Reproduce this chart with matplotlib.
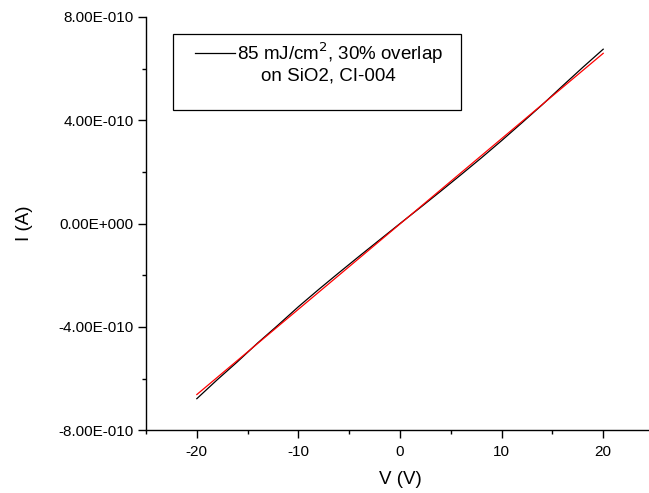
import numpy as np
import matplotlib
matplotlib.use("Agg")
import matplotlib.pyplot as plt
from matplotlib.ticker import FixedLocator, FuncFormatter
from matplotlib.patches import Rectangle

plt.rcParams['font.family'] = ['Liberation Sans', 'DejaVu Sans']
plt.rcParams['axes.unicode_minus'] = False

# measured I-V sweep (V in volts, I in 1e-10 A)
v_meas = [-20, -18, -16, -14, -12, -10, -8, -6, -4, -2, 0,
          2, 4, 6, 8, 10, 12, 14, 16, 18, 20]
i_meas = [-6.78, -6.05, -5.35, -4.62, -3.93, -3.22, -2.55, -1.90, -1.26, -0.63, 0.0,
          0.62, 1.25, 1.89, 2.54, 3.21, 3.90, 4.60, 5.33, 6.05, 6.75]

# linear fit
v_fit = [-20, 20]
i_fit = [-6.62, 6.59]

x_major = [-20, -10, 0, 10, 20]
x_minor = [-25, -15, -5, 5, 15, 25]
y_major = [-8e-10, -4e-10, 0, 4e-10, 8e-10]
y_minor = [-6e-10, -2e-10, 2e-10, 6e-10]

legend_line1 = "85 mJ/cm$^2$, 30% overlap"
legend_line2 = "on SiO2, CI-004"

def sci_fmt(y, pos):
    if y == 0:
        return "0.00E+000"
    exp = int(np.floor(np.log10(abs(y)) + 1e-9))
    mant = y / 10 ** exp
    return "%.2fE%s%03d" % (mant, "-" if exp < 0 else "+", abs(exp))

fig = plt.figure(figsize=(6.49, 4.93), dpi=100)
ax = fig.add_axes([0.2250, 0.1274, 0.7827, 0.8383])

ax.plot(v_meas, np.array(i_meas) * 1e-10, color='black', lw=0.9)
ax.plot(v_fit, np.array(i_fit) * 1e-10, color='#ff0000', lw=0.9)

ax.set_xlim(-25, 25)
ax.set_ylim(-8e-10, 8e-10)
ax.xaxis.set_major_locator(FixedLocator(x_major))
ax.xaxis.set_minor_locator(FixedLocator(x_minor))
ax.yaxis.set_major_locator(FixedLocator(y_major))
ax.yaxis.set_minor_locator(FixedLocator(y_minor))
ax.yaxis.set_major_formatter(FuncFormatter(sci_fmt))

for s in ['top', 'right']:
    ax.spines[s].set_visible(False)
for s in ['left', 'bottom']:
    ax.spines[s].set_linewidth(1.0)

ax.tick_params(which='major', direction='out', length=5.5, width=1.0, labelsize=11, pad=3.5)
ax.tick_params(which='minor', direction='out', length=3, width=1.0)
ax.tick_params(axis='x', which='major', pad=5)

ax.set_xlabel("V (V)", fontsize=13.5, labelpad=9)
ax.set_ylabel("I (A)", fontsize=13.5, labelpad=18)

# legend box
fig.patches.append(Rectangle((0.266, 0.777), 0.4438, 0.1535, transform=fig.transFigure,
                             fill=False, edgecolor='black', lw=0.9))
fig.lines.append(plt.Line2D([0.300, 0.362], [0.892, 0.892], transform=fig.transFigure,
                            color='black', lw=0.9))
fig.text(0.3655, 0.892, legend_line1, fontsize=13.5, ha='left', va='center')
fig.text(0.5055, 0.845, legend_line2, fontsize=13.5, ha='center', va='center')

fig.savefig("out.png", dpi=100)
